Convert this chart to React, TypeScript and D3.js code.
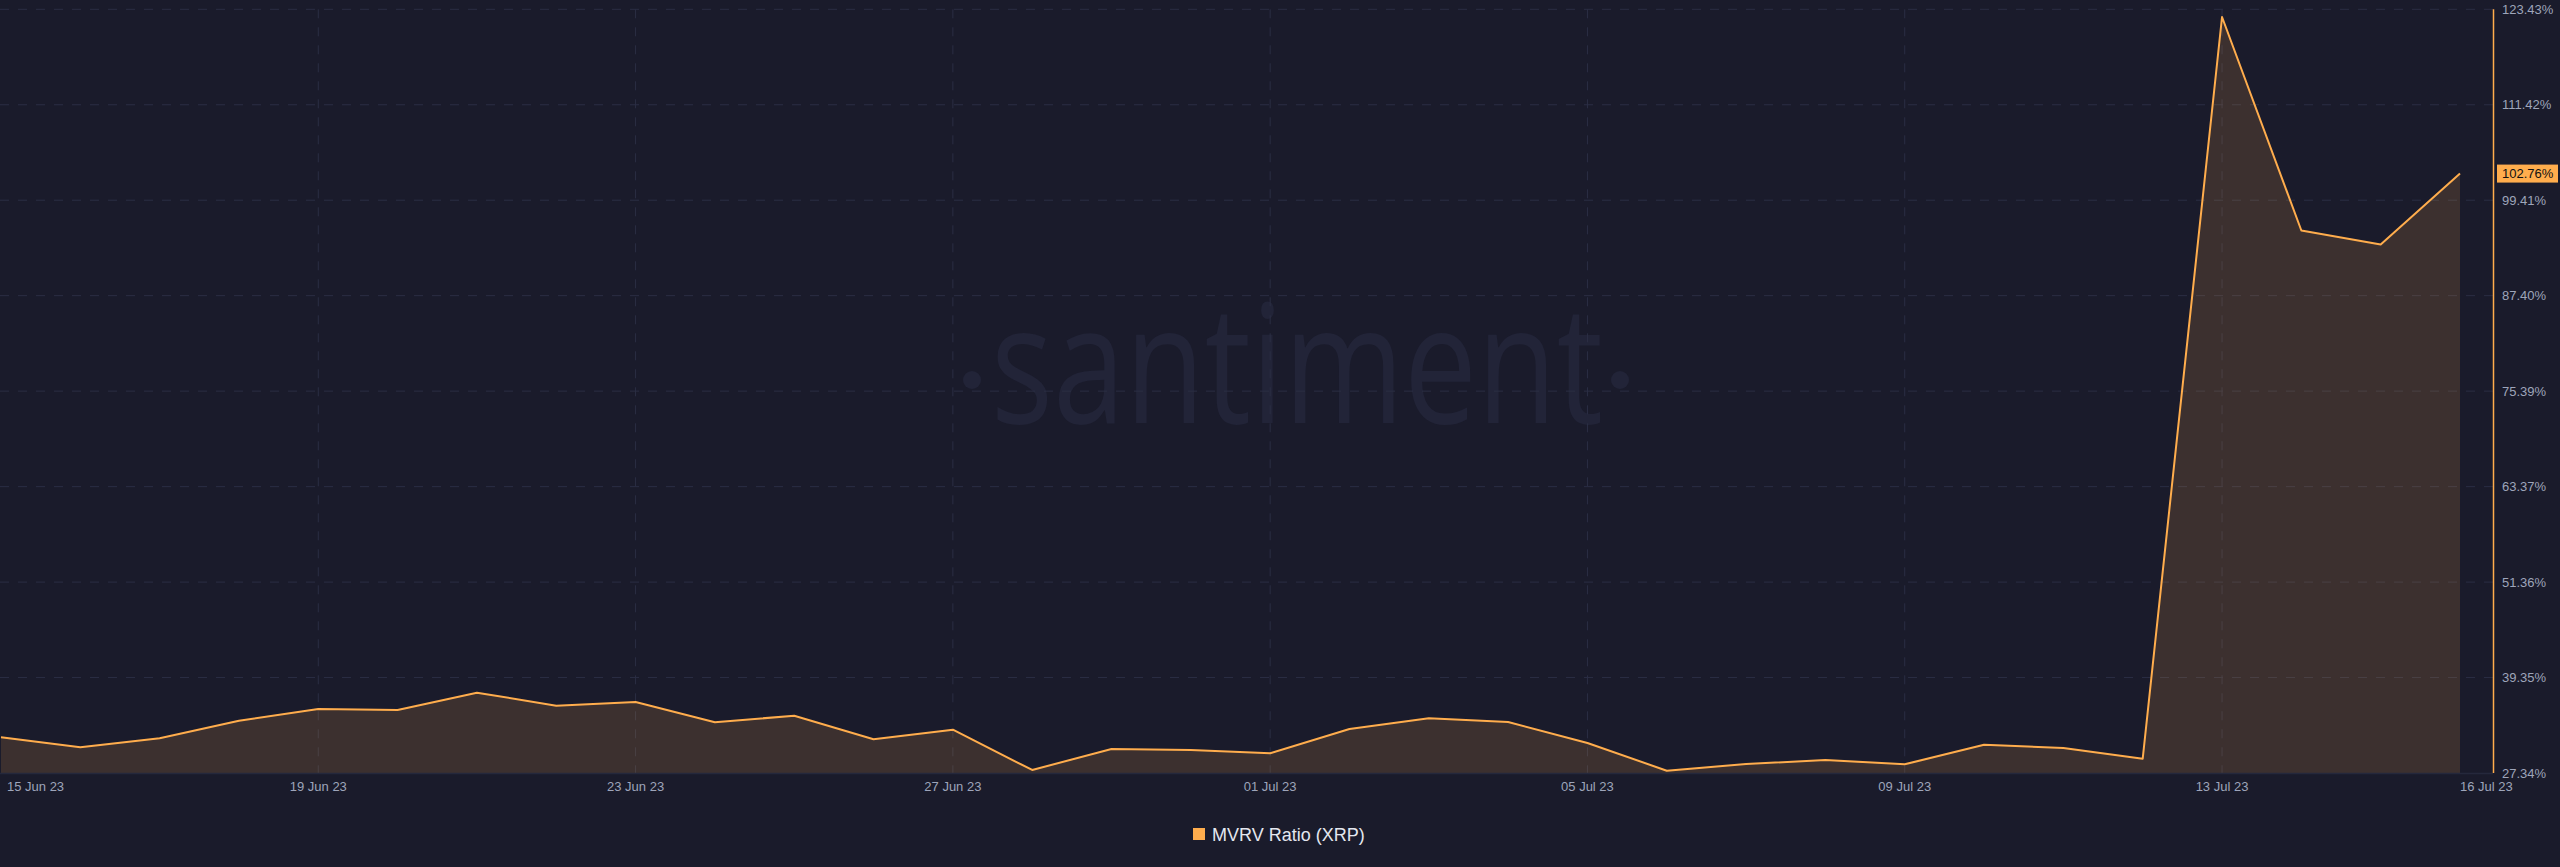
import React from "react";
import * as d3 from "d3";

const dates: string[] = [
  "2023-06-15","2023-06-16","2023-06-17","2023-06-18","2023-06-19","2023-06-20","2023-06-21","2023-06-22",
  "2023-06-23","2023-06-24","2023-06-25","2023-06-26","2023-06-27","2023-06-28","2023-06-29","2023-06-30",
  "2023-07-01","2023-07-02","2023-07-03","2023-07-04","2023-07-05","2023-07-06","2023-07-07","2023-07-08",
  "2023-07-09","2023-07-10","2023-07-11","2023-07-12","2023-07-13","2023-07-14","2023-07-15","2023-07-16",
];
const mvrv: number[] = [
  31.83, 30.57, 31.71, 33.92, 35.40, 35.27, 37.45, 35.81,
  36.28, 33.72, 34.55, 31.58, 32.79, 27.72, 30.36, 30.23,
  29.82, 32.88, 34.22, 33.76, 31.12, 27.63, 28.47, 28.98,
  28.43, 30.90, 30.49, 29.14, 122.46, 95.60, 93.83, 102.76,
];
const yTicks: number[] = [27.34, 39.35, 51.36, 63.37, 75.39, 87.40, 99.41, 111.42, 123.43];
const xTickDates: string[] = [
  "2023-06-15","2023-06-19","2023-06-23","2023-06-27","2023-07-01","2023-07-05","2023-07-09","2023-07-13","2023-07-16",
];
const seriesName = "MVRV Ratio (XRP)";

const W = 2560;
const H = 867;
const BG = "#1a1b2b";
const ORANGE = "#ffad4d";
const GRID = "#2b2e44";
const LABEL = "#9ea5ba";
const FONT = "'Liberation Sans', Arial, Helvetica, sans-serif";

export default function App() {
  const parse = d3.utcParse("%Y-%m-%d");
  const fmt = d3.utcFormat("%d %b %y");
  const data = dates.map((d, i) => ({ date: parse(d) as Date, v: mvrv[i] }));

  const plotLeft = 0;
  const plotRight = 2493;
  const plotTop = 9.3;
  const plotBottom = 773;

  const x = d3
    .scaleUtc()
    .domain([data[0].date, data[data.length - 1].date])
    .range([1, 2460]);
  const y = d3
    .scaleLinear()
    .domain([yTicks[0], yTicks[yTicks.length - 1]])
    .range([plotBottom, plotTop]);

  const line = d3
    .line<{ date: Date; v: number }>()
    .x((d) => x(d.date))
    .y((d) => y(d.v));
  const area = d3
    .area<{ date: Date; v: number }>()
    .x((d) => x(d.date))
    .y0(plotBottom)
    .y1((d) => y(d.v));

  const last = data[data.length - 1];
  const ticksX = xTickDates.map((d) => parse(d) as Date);

  return (
    <svg
      width={W}
      height={H}
      style={{ position: "absolute", left: 0, top: 0, display: "block" }}
      xmlns="http://www.w3.org/2000/svg"
    >
      <rect x={0} y={0} width={W} height={H} fill={BG} />

      {/* watermark */}
      <g fill="#222438">
        <text
          x={991}
          y={423}
          fontFamily="'Open Sans', 'Noto Sans', sans-serif"
          fontSize={164}
          textLength={612}
          lengthAdjust="spacingAndGlyphs"
        >
          santiment
        </text>
        <circle cx={972} cy={380} r={9} />
        <circle cx={1620} cy={380} r={9} />
      </g>

      {/* horizontal grid */}
      {yTicks.slice(1).map((t) => (
        <line
          key={"h" + t}
          x1={plotLeft}
          x2={plotRight}
          y1={y(t)}
          y2={y(t)}
          stroke={GRID}
          strokeWidth={1}
          strokeDasharray="9 9"
        />
      ))}
      {/* vertical grid */}
      {ticksX.slice(1, ticksX.length - 1).map((t, i) => (
        <line
          key={"v" + i}
          x1={x(t)}
          x2={x(t)}
          y1={plotTop}
          y2={plotBottom}
          stroke={GRID}
          strokeWidth={1}
          strokeDasharray="9 9"
        />
      ))}

      {/* area and line */}
      <path d={area(data) || ""} fill={ORANGE} fillOpacity={0.15} />
      <path d={line(data) || ""} fill="none" stroke={ORANGE} strokeWidth={2} strokeLinejoin="round" />

      {/* bottom axis line */}
      <line x1={0} x2={plotRight} y1={plotBottom + 0.5} y2={plotBottom + 0.5} stroke="#25283c" strokeWidth={1.5} />
      {/* right axis line */}
      <line x1={plotRight + 0.5} x2={plotRight + 0.5} y1={plotTop} y2={plotBottom} stroke={ORANGE} strokeWidth={1.5} />

      {/* y tick labels */}
      {yTicks.map((t) => (
        <text
          key={"yl" + t}
          x={2502}
          y={y(t) + 4.5}
          fill={LABEL}
          fontFamily={FONT}
          fontSize={13}
        >
          {t.toFixed(2) + "%"}
        </text>
      ))}

      {/* last value marker */}
      <rect x={2497} y={y(last.v) - 9} width={61} height={18} fill={ORANGE} />
      <text x={2502} y={y(last.v) + 4.5} fill="#111" fontFamily={FONT} fontSize={13}>
        {last.v.toFixed(2) + "%"}
      </text>

      {/* x tick labels */}
      {ticksX.map((t, i) => {
        const first = i === 0;
        const lastT = i === ticksX.length - 1;
        return (
          <text
            key={"xl" + i}
            x={first ? x(t) + 6 : x(t)}
            y={791}
            fill={LABEL}
            fontFamily={FONT}
            fontSize={13}
            textAnchor={first || lastT ? "start" : "middle"}
          >
            {fmt(t)}
          </text>
        );
      })}

      {/* legend */}
      <rect x={1193} y={828} width={12} height={12} fill={ORANGE} />
      <text x={1212} y={840.5} fill="#e4e7ef" fontFamily={FONT} fontSize={18}>
        {seriesName}
      </text>
    </svg>
  );
}
